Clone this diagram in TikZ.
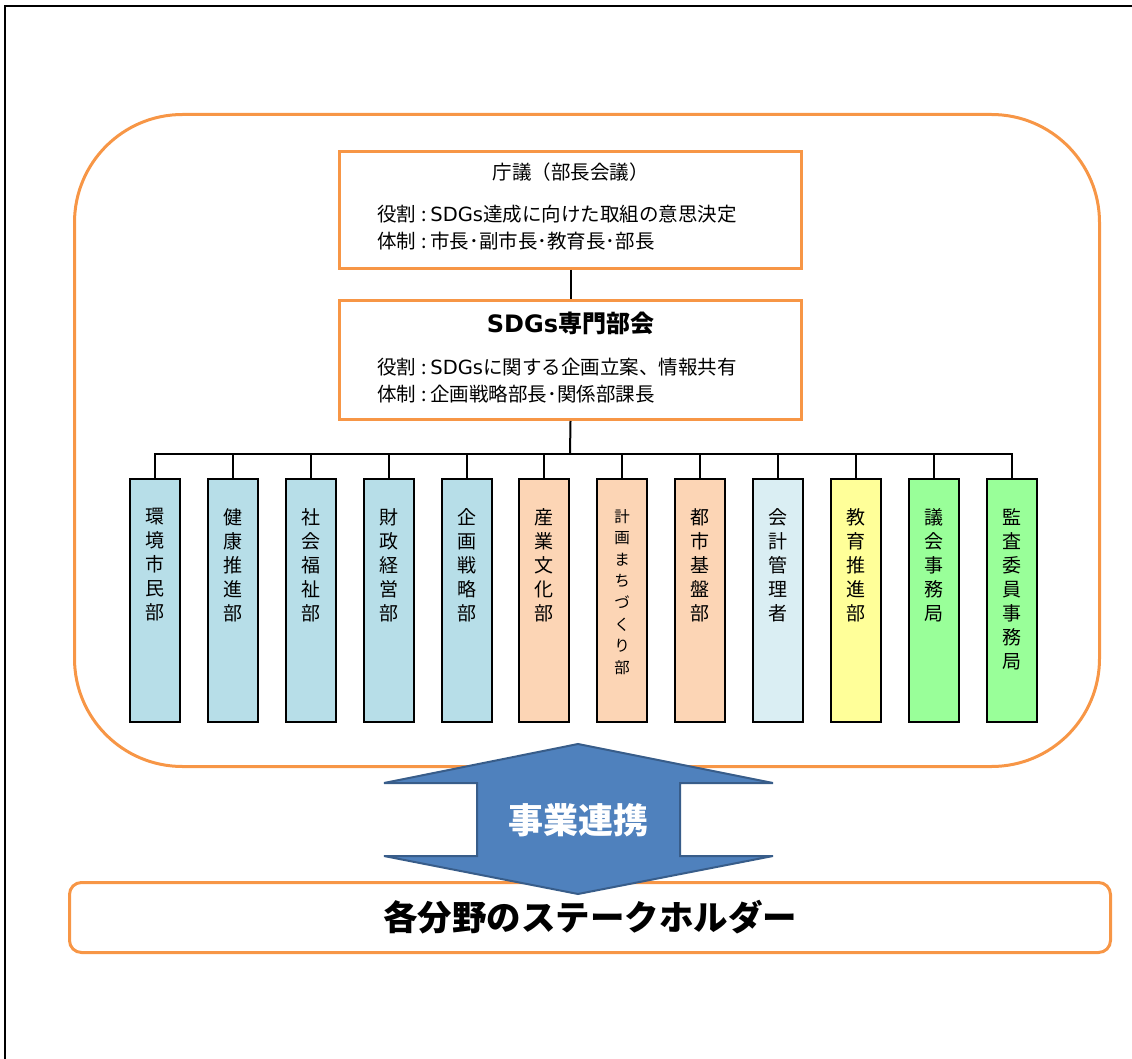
\documentclass[tikz,border=0pt]{standalone}
\usepackage{fontspec}
\setmainfont{Noto Sans CJK JP}
\newfontfamily\lat{DejaVu Sans}
\definecolor{orgline}{HTML}{F79646}
\definecolor{cblue}{HTML}{B7DEE8}
\definecolor{cpeach}{HTML}{FCD5B5}
\definecolor{cpale}{HTML}{DAEEF3}
\definecolor{cyel}{HTML}{FFFF99}
\definecolor{cgreen}{HTML}{99FF99}
\definecolor{arrfill}{HTML}{4F81BD}
\definecolor{arrline}{HTML}{385D8A}
\begin{document}
\begin{tikzpicture}[x=1pt,y=-1pt,
  orangebox/.style={draw=orgline, line width=3pt, fill=white, inner sep=0pt},
  dept/.style={draw=black, line width=2pt, minimum width=50pt, minimum height=243pt, inner sep=0pt},
  vtext/.style={font=\fontsize{19}{24}\selectfont, align=center, inner sep=0pt, anchor=north},
  vsmall/.style={font=\fontsize{15.5}{21.6}\selectfont, align=center, inner sep=0pt, anchor=north},
  wire/.style={line width=2pt, draw=black},
  txt/.style={inner sep=0pt, font=\fontsize{19.5}{27}\selectfont},
]
\useasboundingbox (0,0) rectangle (1132,1059);
% frame
\draw[line width=2pt] (5,1059) -- (5,6) -- (1132,6);
% container
\draw[draw=orgline, line width=3pt, rounded corners=108pt] (74.5,114.5) rectangle (1099.5,766.5);

% top boxes
\node[orangebox, minimum width=462pt, minimum height=117pt] (chogi) at (570.5,210) {};
\node[txt] (chogiT) at (570.5,172) {庁議（部長会議）};
\node[txt, anchor=west, align=left] (chogiR) at (377,228) {役割\hspace{0.25em}:\hspace{0.2em}{\lat SDGs}達成に向けた取組の意思決定\\体制\hspace{0.25em}:\hspace{0.2em}市長･副市長･教育長･部長};

\node[orangebox, minimum width=462pt, minimum height=119pt] (sdg) at (570.5,360) {};
\node[inner sep=0pt, font=\fontsize{24}{28}\selectfont\bfseries] (sdgT) at (570.5,323) {{\lat\bfseries SDGs}専門部会};
\node[txt, anchor=west, align=left] (sdgR) at (377,381) {役割\hspace{0.25em}:\hspace{0.2em}{\lat SDGs}に関する企画立案、情報共有\\体制\hspace{0.25em}:\hspace{0.2em}企画戦略部長･関係部課長};

\draw[wire] (chogi.south) -- (sdg.north);

% departments
\node[dept, fill=cblue]  (d1)  at (155,600.5) {};
\node[dept, fill=cblue]  (d2)  at (233,600.5) {};
\node[dept, fill=cblue]  (d3)  at (311,600.5) {};
\node[dept, fill=cblue]  (d4)  at (389,600.5) {};
\node[dept, fill=cblue]  (d5)  at (467,600.5) {};
\node[dept, fill=cpeach] (d6)  at (544,600.5) {};
\node[dept, fill=cpeach] (d7)  at (622,600.5) {};
\node[dept, fill=cpeach] (d8)  at (700,600.5) {};
\node[dept, fill=cpale]  (d9)  at (778,600.5) {};
\node[dept, fill=cyel]   (d10) at (856,600.5) {};
\node[dept, fill=cgreen] (d11) at (934,600.5) {};
\node[dept, fill=cgreen] (d12) at (1012,600.5) {};

\node[vtext] (t1)  at ([yshift=-30pt]d1.north)  {環\\境\\市\\民\\部};
\node[vtext] (t2)  at ([yshift=-30pt]d2.north)  {健\\康\\推\\進\\部};
\node[vtext] (t3)  at ([yshift=-30pt]d3.north)  {社\\会\\福\\祉\\部};
\node[vtext] (t4)  at ([yshift=-30pt]d4.north)  {財\\政\\経\\営\\部};
\node[vtext] (t5)  at ([yshift=-30pt]d5.north)  {企\\画\\戦\\略\\部};
\node[vtext] (t6)  at ([yshift=-30pt]d6.north)  {産\\業\\文\\化\\部};
\node[vsmall] (t7) at ([yshift=-31pt]d7.north)  {計\\画\\ま\\ち\\づ\\く\\り\\部};
\node[vtext] (t8)  at ([yshift=-30pt]d8.north)  {都\\市\\基\\盤\\部};
\node[vtext] (t9)  at ([yshift=-30pt]d9.north)  {会\\計\\管\\理\\者};
\node[vtext] (t10) at ([yshift=-30pt]d10.north) {教\\育\\推\\進\\部};
\node[vtext] (t11) at ([yshift=-30pt]d11.north) {議\\会\\事\\務\\局};
\node[vtext] (t12) at ([yshift=-30pt]d12.north) {監\\査\\委\\員\\事\\務\\局};

% bus
\coordinate (bus) at (570,454);
\draw[wire] (sdg.south) -- (bus);
\draw[wire] (d1.north) |- (bus) -| (d12.north);
\foreach \i in {2,...,11} { \draw[wire] (d\i.north) -- (d\i.north |- bus); }

% stakeholders
\node[draw=orgline, line width=3pt, rounded corners=12pt, minimum width=1041pt, minimum height=70pt, inner sep=0pt] (stake) at (590,917.5) {};
\node[inner sep=0pt, font=\fontsize{34.5}{40}\selectfont\bfseries] (stakeT) at (590,917.5) {各分野のステークホルダー};

% double arrow
\draw[fill=arrfill, draw=arrline, line width=2pt, line join=miter]
  (578,744) -- (773,783) -- (680,783) -- (680,856) -- (773,856) -- (578,894)
  -- (384,856) -- (477,856) -- (477,783) -- (384,783) -- cycle;
\node[inner sep=0pt, text=white, font=\fontsize{35}{40}\selectfont\bfseries] (renkei) at (578,820) {事業連携};
\end{tikzpicture}
\end{document}
